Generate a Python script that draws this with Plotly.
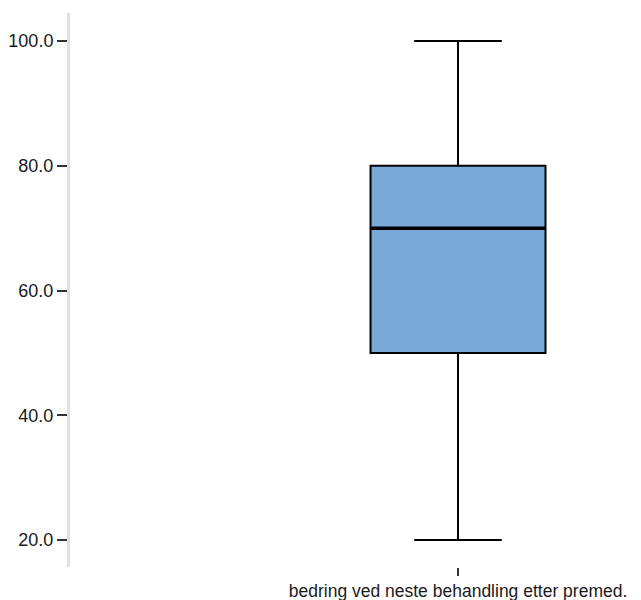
import plotly.graph_objects as go

category = ["bedring ved neste behandling etter premed."]
q1 = [50.0]
median = [70.0]
q3 = [80.0]
lower = [20.0]
upper = [100.0]
y_ticks = [20, 40, 60, 80, 100]

box_width = 0.451

fig = go.Figure()
fig.add_trace(go.Box(
    x=category, q1=q1, median=median, q3=q3,
    lowerfence=lower, upperfence=upper,
    width=box_width, whiskerwidth=0.5,
    fillcolor="#79a8d6",
    line=dict(color="#000000", width=2),
    boxpoints=False, hoverinfo="skip", showlegend=False,
))
fig.add_shape(type="line", xref="x", yref="y",
              x0=-box_width / 2, x1=box_width / 2, y0=median[0], y1=median[0],
              line=dict(color="#000000", width=3.5))

fig.update_layout(
    width=633, height=592,
    margin=dict(l=62, r=0, t=5, b=33),
    paper_bgcolor="white", plot_bgcolor="white",
    font=dict(family="Liberation Sans, Arial, sans-serif", size=18, color="#1a1a1a"),
)
fig.update_xaxes(
    type="category", range=[-1.0, 0.4716],
    showline=False, showgrid=False, zeroline=False,
    ticks="outside", ticklen=8, tickwidth=2, tickcolor="#333333",
    tickfont=dict(size=17.5), ticklabelstandoff=0, automargin=False,
)
fig.update_yaxes(
    range=[15.67, 104.5], tickvals=y_ticks, tickformat=".1f",
    showline=True, linecolor="#e0e0e0", linewidth=3,
    showgrid=False, zeroline=False,
    ticks="outside", ticklen=10, tickwidth=2, tickcolor="#333333",
    tickfont=dict(size=18), automargin=False,
)
fig.write_html("out.html")
